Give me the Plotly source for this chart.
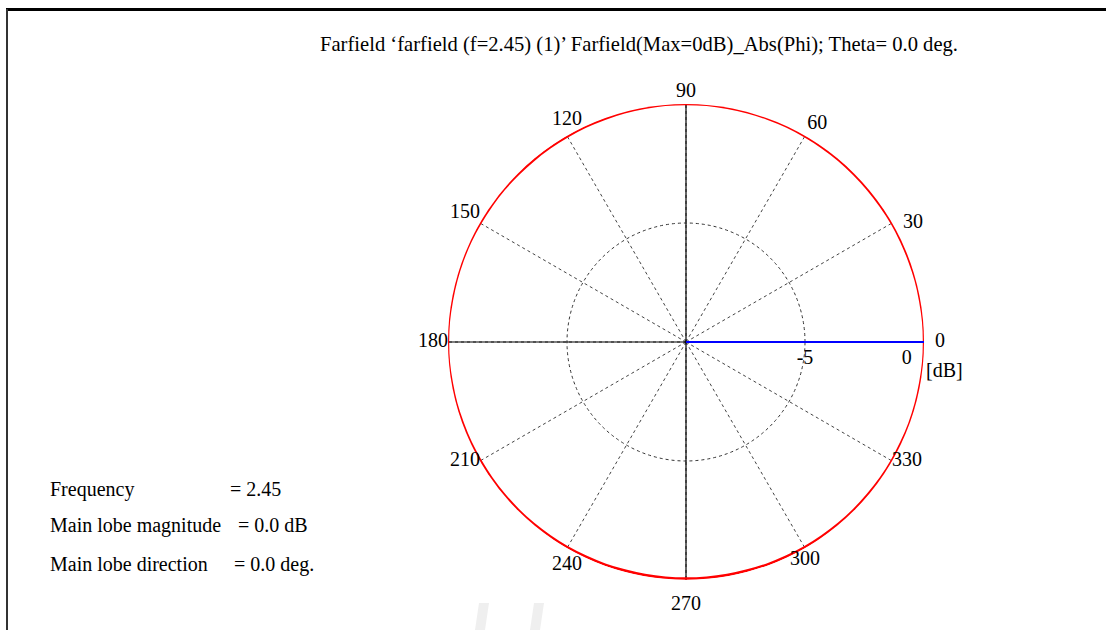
import plotly.graph_objects as go

# Far-field cut: phi angle (deg) and normalised |E| (dB), Theta = 0 deg
phi_deg = [0, 5, 10, 15, 20, 25, 30, 35, 40, 45, 50, 55, 60, 65, 70, 75, 80, 85,
           90, 95, 100, 105, 110, 115, 120, 125, 130, 135, 140, 145, 150, 155, 160, 165, 170, 175,
           180, 185, 190, 195, 200, 205, 210, 215, 220, 225, 230, 235, 240, 245, 250, 255, 260, 265,
           270, 275, 280, 285, 290, 295, 300, 305, 310, 315, 320, 325, 330, 335, 340, 345, 350, 355,
           360]
gain_db = [0.0, 0.0, -0.01, -0.01, -0.02, -0.02, -0.02, -0.03, -0.03, -0.03, -0.02, -0.02,
           -0.02, -0.01, -0.01, -0.01, -0.01, 0.0,
           0.0, 0.0, -0.01, -0.01, -0.02, -0.02, -0.03, -0.03, -0.03, -0.03, -0.02, -0.02,
           -0.02, -0.01, -0.01, -0.01, -0.01, 0.0,
           0.0, 0.0, -0.01, -0.01, -0.02, -0.02, -0.03, -0.03, -0.03, -0.03, -0.03, -0.04,
           -0.04, -0.05, -0.05, -0.06, -0.06, -0.06,
           -0.06, -0.06, -0.06, -0.06, -0.05, -0.05, -0.04, -0.04, -0.03, -0.03, -0.03, -0.02,
           -0.02, -0.02, -0.01, -0.01, -0.01, 0.0,
           0.0]

# Main lobe
main_lobe_dir = 0.0
main_lobe_mag = 0.0
frequency = 2.45

# Radial scale (dB)
r_min, r_max = -10, 0
radial_ticks = [-5, 0]
radial_tick_text = ["-5", "0\u00a0"]

# Angle labels around the rim
angle_ticks = [0, 30, 60, 90, 120, 150, 180, 210, 240, 270, 300, 330]
angle_label_pos = ["middle right", "middle right", "top right", "top center",
                   "top center", "top left", "middle left", "middle left",
                   "bottom center", "bottom center", "bottom center", "middle right"]
# invisible spacer sizes that set each label's gap from the rim
angle_label_gap = [16, 16, 2, 2, 8, 0, 0, 0, 10, 22, 2, 0]

FONT = "Liberation Serif, Times New Roman, serif"
FS = 20

fig = go.Figure()

# Solid principal axes through the centre
for a, b in [(0, 180), (90, 270)]:
    fig.add_trace(go.Scatterpolar(
        r=[r_max, r_min, r_max], theta=[a, a, b], mode="lines",
        line=dict(color="black", width=1.2), hoverinfo="skip", showlegend=False))

# Pattern
fig.add_trace(go.Scatterpolar(
    r=gain_db, theta=phi_deg, mode="lines",
    line=dict(color="#ff0000", width=2.4, shape="spline"), showlegend=False))

# Main lobe direction marker
fig.add_trace(go.Scatterpolar(
    r=[r_min, main_lobe_mag], theta=[main_lobe_dir, main_lobe_dir], mode="lines",
    line=dict(color="#0000ff", width=2), showlegend=False))

# Radial scale labels
fig.add_trace(go.Scatterpolar(
    r=radial_ticks, theta=[0, 0], mode="markers+text",
    marker=dict(size=10, opacity=0),
    text=radial_tick_text,
    textposition=["bottom center", "bottom left"],
    textfont=dict(family=FONT, size=FS, color="black"),
    hoverinfo="skip", showlegend=False))

# Angle labels
fig.add_trace(go.Scatterpolar(
    r=[r_max] * len(angle_ticks), theta=angle_ticks, mode="markers+text",
    marker=dict(size=angle_label_gap, opacity=0),
    text=[str(a) for a in angle_ticks], textposition=angle_label_pos,
    textfont=dict(family=FONT, size=FS, color="black"),
    cliponaxis=False, hoverinfo="skip", showlegend=False))

W, H = 1106, 630
cx, cy, rad = 686, 342, 238

fig.update_layout(
    width=W, height=H,
    margin=dict(l=0, r=0, t=0, b=0),
    paper_bgcolor="white",
    plot_bgcolor="white",
    font=dict(family=FONT, size=FS, color="black"),
    polar=dict(
        domain=dict(x=[(cx - rad) / W, (cx + rad) / W],
                    y=[1 - (cy + rad) / H, 1 - (cy - rad) / H]),
        bgcolor="white",
        radialaxis=dict(range=[r_min, r_max], tickvals=radial_ticks,
                        showticklabels=False, ticks="", showline=False,
                        gridcolor="#333333", griddash="3px,3px", gridwidth=1),
        angularaxis=dict(rotation=0, direction="counterclockwise",
                         tickvals=angle_ticks, showticklabels=False,
                         ticks="", showline=False,
                         gridcolor="#444444", griddash="3px,3px", gridwidth=1),
    ),
)

title = "Farfield \u2018farfield (f=2.45) (1)\u2019 Farfield(Max=0dB)_Abs(Phi); Theta= 0.0 deg."
annots = [
    dict(text=title, x=639 / W, y=1 - 45 / H, xanchor="center", yanchor="middle",
         size=20.6),
    dict(text="[dB]", x=924 / W, y=1 - 370 / H, xanchor="left", yanchor="middle"),
    dict(text="Frequency", x=48 / W, y=1 - 489 / H, xanchor="left", yanchor="middle"),
    dict(text=f"= {frequency}", x=228 / W, y=1 - 489 / H, xanchor="left", yanchor="middle"),
    dict(text="Main lobe magnitude", x=48 / W, y=1 - 525 / H, xanchor="left", yanchor="middle"),
    dict(text=f"= {main_lobe_mag:.1f} dB", x=236 / W, y=1 - 525 / H, xanchor="left", yanchor="middle"),
    dict(text="Main lobe direction", x=48 / W, y=1 - 564 / H, xanchor="left", yanchor="middle"),
    dict(text=f"= {main_lobe_dir:.1f} deg.", x=232 / W, y=1 - 564 / H, xanchor="left", yanchor="middle"),
]
for a in annots:
    size = a.pop("size", FS)
    fig.add_annotation(xref="paper", yref="paper", showarrow=False,
                       font=dict(family=FONT, size=size, color="black"), **a)

# Frame lines (top and left)
fig.add_shape(type="line", xref="paper", yref="paper",
              x0=6 / W, x1=1, y0=1 - 9.5 / H, y1=1 - 9.5 / H,
              line=dict(color="black", width=3))
fig.add_shape(type="line", xref="paper", yref="paper",
              x0=7 / W, x1=7 / W, y0=0, y1=1 - 9 / H,
              line=dict(color="#333333", width=2))

# Faint watermark strokes along the bottom edge
for x0 in (475, 530):
    fig.add_shape(type="path", xref="paper", yref="paper",
                  path=(f"M {(x0 + 4) / W},{1 - 603 / H} L {(x0 + 14) / W},{1 - 603 / H} "
                        f"L {(x0 + 10) / W},{0} L {x0 / W},{0} Z"),
                  fillcolor="#efefef", line=dict(width=0), layer="below")

fig.write_html("out.html")
